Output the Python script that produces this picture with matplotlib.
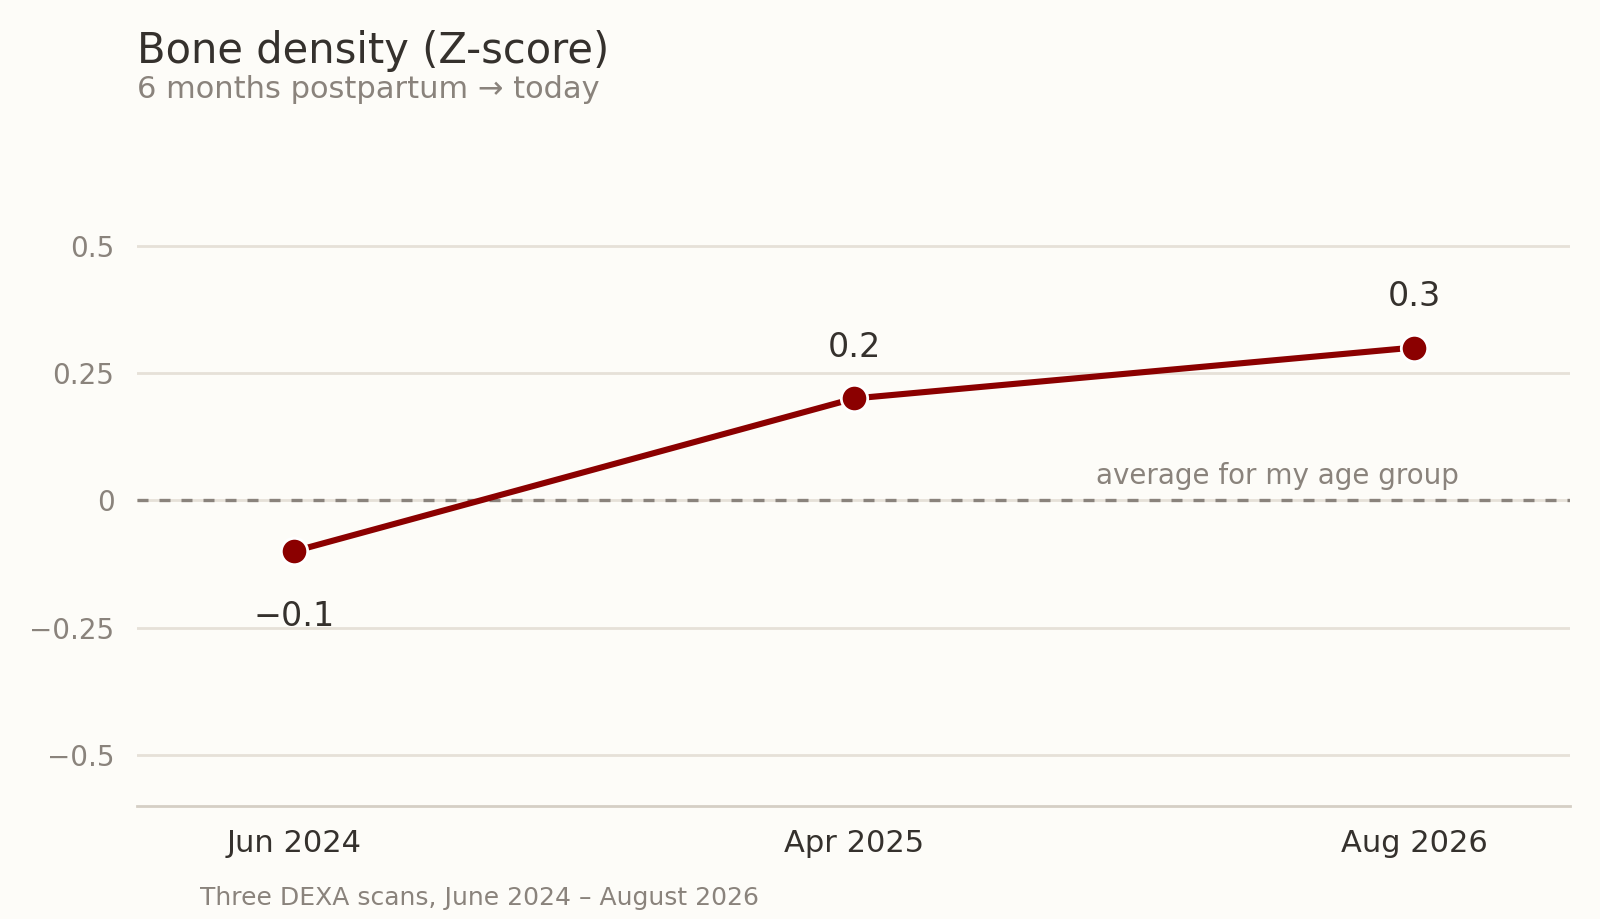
#import matplotlib.pyplot for the graph
import matplotlib.pyplot as plt

#the data
scan_labels = ['Jun 2024', 'Apr 2025', 'Aug 2026']
z_scores = [-0.1, 0.2, 0.3]
value_texts = ['\u22120.1', '0.2', '0.3']
y_ticks = [-0.5, -0.25, 0, 0.25, 0.5]
y_tick_labels = ['\u22120.5', '\u22120.25', '0', '0.25', '0.5']

#colours
bg = '#fdfcf8'
dark = '#35312d'
grey = '#8a837c'
red = '#8b0000'

plt.rcParams['font.family'] = ['DejaVu Sans']

fig = plt.figure(figsize=(8, 4.595), dpi=200, facecolor=bg)
ax = fig.add_axes([0.0854, 0.1233, 0.8956, 0.6647])
ax.set_facecolor(bg)

x = list(range(len(scan_labels)))

#grid lines and the dashed average line
ax.set_yticks(y_ticks)
ax.set_yticklabels(y_tick_labels)
ax.grid(axis='y', color='#e6e1d8', linewidth=1.0)
ax.axhline(0, color=grey, linewidth=1.2, linestyle=(0, (3.3, 3.3)), zorder=2)

#the line with markers
ax.plot(x, z_scores, color=red, linewidth=2.2, marker='o', markersize=9.5,
        markerfacecolor=red, markeredgecolor='white', markeredgewidth=1.0,
        zorder=3)

#value labels
for xi, yi, t in zip(x, z_scores, value_texts):
    if yi < 0:
        ax.annotate(t, (xi, yi), xytext=(0, -17.5), textcoords='offset points',
                    ha='center', va='top', fontsize=12, color=dark)
    else:
        ax.annotate(t, (xi, yi), xytext=(0, 12.5), textcoords='offset points',
                    ha='center', va='bottom', fontsize=12, color=dark)

ax.text(2.08, 0.02, 'average for my age group', ha='right', va='bottom',
        fontsize=10, color=grey)

ax.set_xlim(-0.282, 2.278)
ax.set_ylim(-0.6, 0.6)
ax.set_xticks(x)
ax.set_xticklabels(scan_labels)
ax.tick_params(axis='x', length=0, pad=8.3, labelsize=11, labelcolor=dark)
ax.tick_params(axis='y', length=0, pad=8, labelsize=10, labelcolor=grey)

for s in ['top', 'right', 'left']:
    ax.spines[s].set_visible(False)
ax.spines['bottom'].set_color('#d5cfc5')
ax.spines['bottom'].set_linewidth(1.0)

#title, subtitle and footer
fig.text(0.0854, 0.931, 'Bone density (Z-score)', ha='left', va='baseline',
         fontsize=15, color=dark)
fig.text(0.0854, 0.8934, '6 months postpartum \u2192 today', ha='left',
         va='baseline', fontsize=11, color=grey)
fig.text(0.125, 0.0152, 'Three DEXA scans, June 2024 \u2013 August 2026',
         ha='left', va='baseline', fontsize=9, color=grey)

fig.savefig('out.png', dpi=200, facecolor=bg)
